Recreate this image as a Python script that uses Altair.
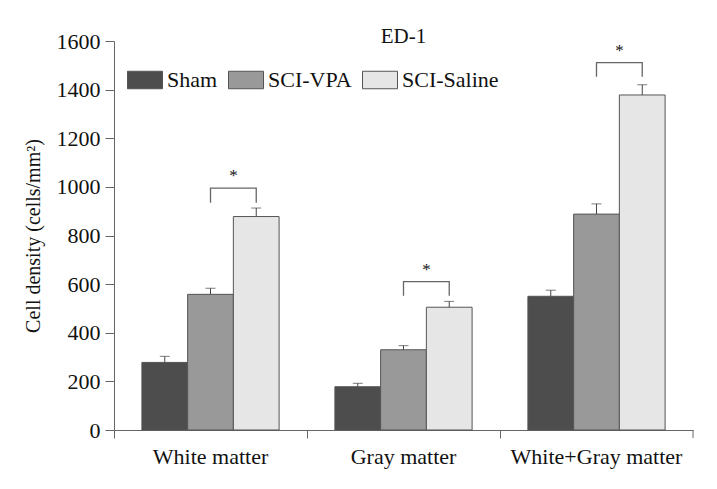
import altair as alt
import pandas as pd

regions = ["White matter", "Gray matter", "White+Gray matter"]
groups = ["Sham", "SCI-VPA", "SCI-Saline"]
sham = [278, 178, 550]
vpa = [558, 330, 888]
saline = [878, 505, 1378]
sham_err = [25, 14, 25]
vpa_err = [25, 17, 42]
saline_err = [35, 24, 42]
colors = ["#4d4d4d", "#999999", "#e6e6e6"]

# significance brackets (VPA vs Saline)
bracket_top = [995, 610, 1511]
bracket_leg = [935, 552, 1453]
star_y = [1057, 672, 1570]

rows = []
for i, r in enumerate(regions):
    for g, v, e in zip(groups, [sham[i], vpa[i], saline[i]], [sham_err[i], vpa_err[i], saline_err[i]]):
        rows.append({"region": r, "group": g, "value": v, "upper": v + e})
df = pd.DataFrame(rows)

brows = []
for i, r in enumerate(regions):
    pts = [("SCI-VPA", bracket_leg[i]), ("SCI-VPA", bracket_top[i]),
           ("SCI-Saline", bracket_top[i]), ("SCI-Saline", bracket_leg[i])]
    for k, (g, y) in enumerate(pts):
        brows.append({"region": r, "group": g, "y": y, "ord": k})
bdf = pd.DataFrame(brows)
sdf = pd.DataFrame({"region": regions, "group": ["SCI-VPA"] * 3, "y": star_y, "t": ["*"] * 3})

FONT = "Liberation Serif"
W, H = 579, 389

xenc = alt.X("region:N", sort=regions, title=None,
             scale=alt.Scale(paddingInner=0, paddingOuter=0),
             axis=alt.Axis(labelAngle=0, bandPosition=0, tickSize=8, labelPadding=8,
                           labelFontSize=22, labelColor="#111", domainColor="#666",
                           tickColor="#666", labelFont=FONT))
xoff = alt.XOffset("group:N", sort=groups, scale=alt.Scale(paddingInner=0, paddingOuter=0.61))

yscale = alt.Scale(domain=[0, 1600])
yenc = alt.Y("value:Q", scale=yscale, title="Cell density (cells/mm²)",
             axis=alt.Axis(values=list(range(0, 1601, 200)), format="d", grid=False, tickSize=9,
                           labelPadding=5, labelFontSize=22, labelColor="#111",
                           titleFontSize=20, titleFontWeight="normal", titleColor="#111",
                           titlePadding=13, domainColor="#666", tickColor="#666",
                           labelFont=FONT, titleFont=FONT))

bars = alt.Chart(df).mark_bar(stroke="#555", strokeWidth=1).encode(
    x=xenc, xOffset=xoff, y=yenc,
    color=alt.Color("group:N", sort=groups,
                    scale=alt.Scale(domain=groups, range=colors),
                    legend=alt.Legend(title=None, orient="none", legendX=13, legendY=21,
                                      direction="horizontal",
                                      symbolType="M-1,-0.5H1V0.5H-1Z", symbolSize=1225,
                                      symbolStrokeColor="#555", symbolStrokeWidth=1,
                                      labelFontSize=22, labelFont=FONT, labelColor="#111",
                                      labelOffset=4, columnPadding=8)),
)

err = alt.Chart(df).mark_rule(color="#444", strokeWidth=1).encode(
    x=alt.X("region:N", sort=regions), xOffset=xoff,
    y=alt.Y("value:Q", scale=yscale), y2="upper:Q")
cap = alt.Chart(df).mark_tick(color="#444", thickness=1, size=10).encode(
    x=alt.X("region:N", sort=regions), xOffset=xoff,
    y=alt.Y("upper:Q", scale=yscale))

br = alt.Chart(bdf).mark_line(color="#666", strokeWidth=1.3).encode(
    x=alt.X("region:N", sort=regions), xOffset=xoff,
    y=alt.Y("y:Q", scale=yscale), detail="region:N", order="ord:Q")

star = alt.Chart(sdf).mark_text(font=FONT, fontSize=17, dx=23, dy=3, color="#111").encode(
    x=alt.X("region:N", sort=regions), xOffset=xoff,
    y=alt.Y("y:Q", scale=yscale), text="t:N")

end_tick = alt.Chart(pd.DataFrame({"a": [0]})).mark_rule(color="#666").encode(
    x=alt.value(W), y=alt.value(H), y2=alt.value(H + 8))

chart = alt.layer(bars, err, cap, br, star, end_tick).properties(
    width=W, height=H,
    title=alt.Title("ED-1", font=FONT, fontSize=21, fontWeight="normal", color="#111",
                    anchor="middle", offset=-17),
    autosize=alt.AutoSizeParams(type="none"),
    padding={"left": 106, "top": 33, "right": 16, "bottom": 51},
).configure(background="white", view=alt.ViewConfig(stroke=None))

chart.save("out.html", embed_options={"renderer": "svg", "actions": False})
